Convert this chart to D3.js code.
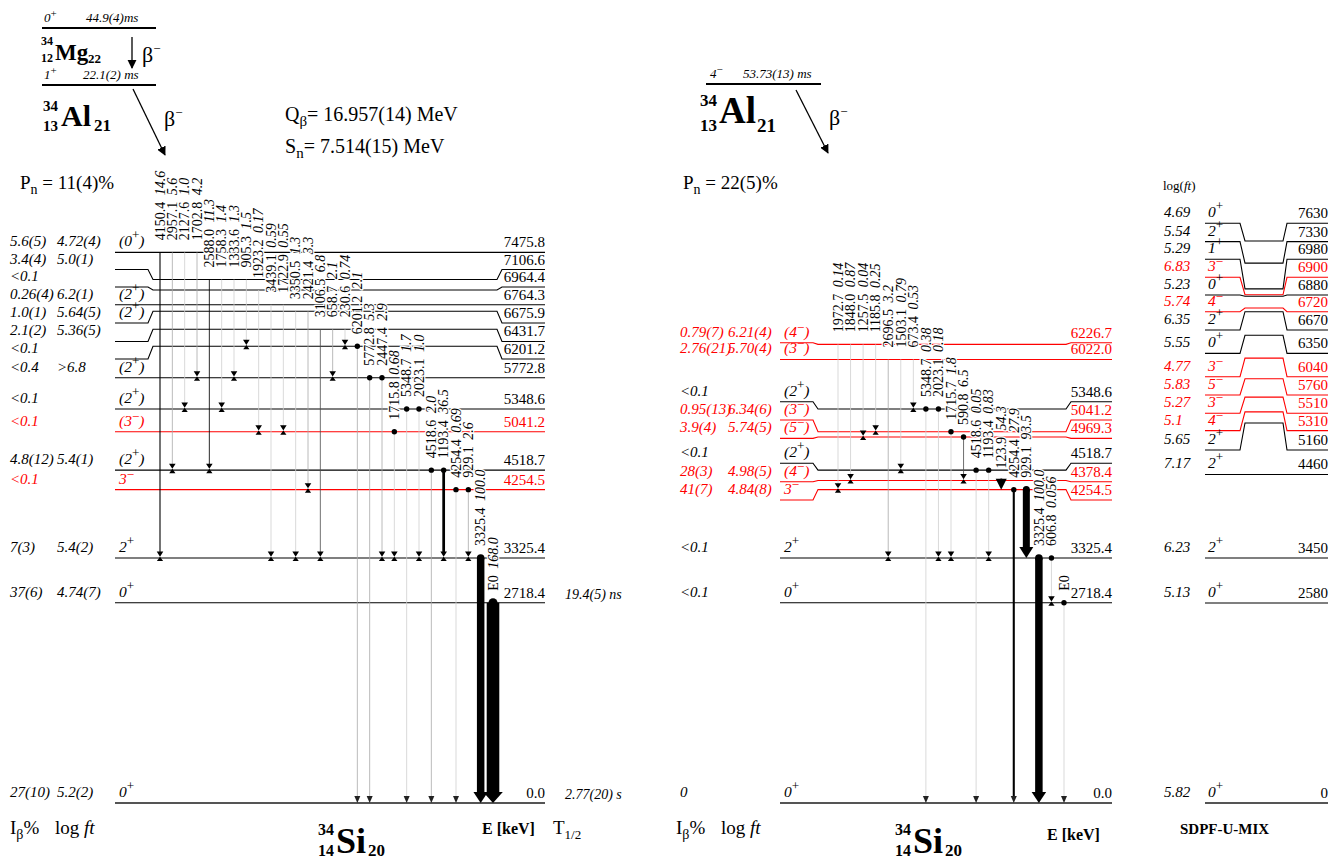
<!DOCTYPE html>
<html><head><meta charset="utf-8">
<script src="https://cdn.jsdelivr.net/npm/d3@7"></script>
<style>
body{margin:0;background:#fff;}
svg{display:block;font-family:"Liberation Serif","Times New Roman",serif;}
.halo{paint-order:stroke;stroke:#fff;stroke-width:2.5px;stroke-linejoin:round;}
</style></head><body>
<svg id="c" width="1339" height="863"></svg>
<script>
// ================= DATA =================
// Panel A: 34Al(1+) beta decay -> 34Si
const aLevelE  = [7475.8, 7106.6, 6964.4, 6764.3, 6675.9, 6431.7, 6201.2, 5772.8, 5348.6, 5041.2, 4518.7, 4254.5, 3325.4, 2718.4, 0.0];
const aLevelJ  = ["(0+)", "", "", "(2+)", "(2+)", "", "", "(2+)", "(2+)", "(3-)", "(2+)", "3-", "2+", "0+", "0+"];
const aIbeta   = ["5.6(5)","3.4(4)","<0.1","0.26(4)","1.0(1)","2.1(2)","<0.1","<0.4","<0.1","<0.1","4.8(12)","<0.1","7(3)","37(6)","27(10)"];
const aLogft   = ["4.72(4)","5.0(1)","","6.2(1)","5.64(5)","5.36(5)","",">6.8","","","5.4(1)","","5.4(2)","4.74(7)","5.2(2)"];
const aHalfLife = {2718.4: "19.4(5) ns", 0: "2.77(20) s"};
const aGammaFrom  = [7475.8,7475.8,7475.8,7475.8,7106.6,7106.6,7106.6,7106.6,6964.4,6764.3,6764.3,6675.9,6675.9,6431.7,6431.7,6431.7,6201.2,5772.8,5772.8,5041.2,5348.6,5348.6,4518.7,4518.7,4254.5,4254.5,3325.4,2718.4];
const aGammaTo    = [3325.4,4518.7,5348.6,5772.8,4518.7,5348.6,5772.8,6201.2,5041.2,3325.4,5041.2,3325.4,4254.5,3325.4,5772.8,6201.2,0,0,3325.4,3325.4,0,3325.4,0,3325.4,0,3325.4,0,0];
const aGammaLabel = ["4150.4","2957.1","2127.6","1702.8","2588.0","1758.3","1333.6","905.3","1923.2","3439.1","1722.9","3350.5","2421.4","3106.5","658.7","230.6","6201.2","5772.8","2447.4","1715.8","5348.7","2023.1","4518.6","1193.4","4254.4","929.1","3325.4","E0"];
const aGammaI     = ["14.6","5.6","1.0","4.2","11.3","1.4","1.3","1.5","0.17","0.59","0.55","1.3","3.3","6.8","2.1","0.74","2.1","5.3","2.9","0.68","1.7","1.0","2.0","36.5","0.69","2.6","100.0","168.0"];

// Panel B: 34Al(4-) beta decay -> 34Si
const bLevelE  = [6226.7, 6022.0, 5348.6, 5041.2, 4969.3, 4518.7, 4378.4, 4254.5, 3325.4, 2718.4, 0.0];
const bLevelJ  = ["(4-)","(3-)","(2+)","(3-)","(5-)","(2+)","(4-)","3-","2+","0+","0+"];
const bIbeta   = ["0.79(7)","2.76(21)","<0.1","0.95(13)","3.9(4)","<0.1","28(3)","41(7)","<0.1","<0.1","0"];
const bLogft   = ["6.21(4)","5.70(4)","","6.34(6)","5.74(5)","","4.98(5)","4.84(8)","","",""];
const bGammaFrom  = [6226.7,6226.7,6226.7,6226.7,6022.0,6022.0,6022.0,5348.6,5348.6,5041.2,4969.3,4518.7,4518.7,4378.4,4254.5,4254.5,3325.4,3325.4,2718.4];
const bGammaTo    = [4254.5,4378.4,4969.3,5041.2,3325.4,4518.7,5348.6,0,3325.4,3325.4,4378.4,0,3325.4,4254.5,0,3325.4,0,2718.4,0];
const bGammaLabel = ["1972.7","1848.0","1257.5","1185.8","2696.5","1503.1","673.4","5348.7","2023.1","1715.7","590.8","4518.6","1193.4","123.9","4254.4","929.1","3325.4","606.8","E0"];
const bGammaI     = ["0.14","0.87","0.04","0.25","3.2","0.79","0.53","0.38","0.18","1.8","6.5","0.05","0.83","54.3","27.9","93.5","100.0","0.056",""];

// Panel S: SDPF-U-MIX shell-model calculation
const sLevelE = [7630,7330,6980,6900,6880,6720,6670,6350,6040,5760,5510,5310,5160,4460,3450,2580,0];
const sLevelJ = ["0+","2+","1+","3-","0+","4-","2+","0+","3-","5-","3-","4-","2+","2+","2+","0+","0+"];
const sLogft  = ["4.69","5.54","5.29","6.83","5.23","5.74","6.35","5.55","4.77","5.83","5.27","5.1","5.65","7.17","6.23","5.13","5.82"];

// ================= LAYOUT (label-row energies, keV) =================
const aRowKeV = {7106.6: 7243, 6964.4: 7005, 6675.9: 6517, 6431.7: 6266, 6201.2: 6028};
const bRowKeV = {6226.7: 6249, 5348.6: 5448, 5041.2: 5200, 4969.3: 4951, 4518.7: 4612, 4378.4: 4362, 4254.5: 4114};
const sRowKeV = {7630: 7870, 7330: 7621, 6980: 7382, 6900: 7137, 6880: 6897, 6720: 6670, 6670: 6422, 6350: 6105,
                 6040: 5788, 5760: 5539, 5510: 5291, 5310: 5055, 5160: 4792, 3450: 3326, 2580: 2715};
const sFlat = new Set([3450, 2580]);

const cfgA = {x0:115, x1:545, kL:[148,153], kR:[497,502], ibX:10, logX:57, spinX:119, col:[160,493]};
const cfgB = {x0:780, x1:1112, kL:[813,818], kR:[1066,1071], ibX:680, logX:728, spinX:784, col:[838,1064]};
const cfgS = {x0:1205, x1:1328, kL:[1240,1245], kR:[1283,1287], logX:1164, spinX:1208};

// ================= DRAWING =================
const svg = d3.select("#c");
const y = d3.scaleLinear().domain([0, 7630]).range([803, 241]);
const MINUS = "\u2212";
const RED = "#ff0000";
const isNeg = j => /-/.test(j);

function spinText(g, s, x, yb, color, size){
  if(!s) return;
  const m = s.match(/^(\(?)(\d+)([+-])(\)?)$/);
  const t = g.append("text").attr("x",x).attr("y",yb).attr("fill",color)
    .attr("font-style","italic").attr("font-size",size);
  t.append("tspan").text(m[1]+m[2]);
  const up = m[3]==="+" ? 7 : 5;
  t.append("tspan").attr("dy",-up).attr("font-size",size*0.85).attr("font-style","normal")
    .text(m[3]==="+"?"+":MINUS);
  if(m[4]) t.append("tspan").attr("dy",up).text(m[4]);
}

function buildLevels(E, J, rowKeV, flat){
  return E.map((e,i)=>{
    const r = rowKeV[e] !== undefined ? rowKeV[e] : e;
    const row = y(r);
    const mid = (flat && flat.has(e)) ? row : y(e);
    return {E:e, J:J[i], i, row, mid, neg:isNeg(J[i])};
  });
}

function drawLevels(g, cfg, levels, opts){
  const line = d3.line();
  const gLines = g.append("g"), gText = g.append("g");
  levels.forEach(l=>{
    const col = l.neg ? RED : "#000";
    const zero = l.E === 0;
    gLines.append("path")
      .attr("d", line([[cfg.x0,l.row],[cfg.kL[0],l.row],[cfg.kL[1],l.mid],[cfg.kR[0],l.mid],[cfg.kR[1],l.row],[cfg.x1,l.row]]))
      .attr("fill","none").attr("stroke", zero ? "#555" : col)
      .attr("stroke-width", zero ? 2 : 1.1);
    gText.append("text").attr("x",cfg.x1).attr("y",l.row-5).attr("text-anchor","end")
      .attr("font-size",opts.eSize).attr("fill",col).text(opts.fmt(l.E));
    if(opts.ib) gText.append("text").attr("x",cfg.ibX).attr("y",l.row-6).attr("font-size",15)
      .attr("font-style","italic").attr("fill",col).text(opts.ib[l.i]);
    if(opts.logft) gText.append("text").attr("x",cfg.logX).attr("y",l.row-6).attr("font-size",opts.lSize)
      .attr("font-style","italic").attr("fill",col).text(opts.logft[l.i]);
    spinText(gText, l.J, cfg.spinX, l.row-6, col, 15.5);
  });
}

function drawGammas(g, cfg, levels, from, to, labels, ints){
  const colX = d3.scaleLinear().domain([0, labels.length-1]).range(cfg.col);
  const lv = new Map(levels.map(l=>[l.E,l]));
  const fed = new Set(to);
  const gl = g.append("g"), gm = g.append("g"), gt = g.append("g");
  labels.forEach((lab,i)=>{
    const x = colX(i);
    const y1 = lv.get(from[i]).mid, y2 = lv.get(to[i]).mid;
    const I = ints[i] === "" ? 0 : +ints[i];
    const w = Math.max(0.8, I*0.075);
    const c = I>=10 ? "#000" : I>=6 ? "#4a4a4a" : I>=2 ? "#a8a8a8" : "#cfcfcf";
    const thick = w > 3.5;
    const toZero = to[i] === 0;
    let headH, halfW;
    if(thick){ headH = 11; halfW = w/2 + 3.5; }
    else if(toZero){ headH = 7; halfW = Math.max(3, w/2+2); }
    else { headH = 5; halfW = 3.3; }
    const yEnd = Math.max(y1, y2 - headH + 0.5);
    gl.append("line").attr("x1",x).attr("x2",x).attr("y1",y1).attr("y2",yEnd)
      .attr("stroke",c).attr("stroke-width",w);
    if(thick || toZero){
      gm.append("path").attr("d",`M${x-halfW},${y2-headH}L${x+halfW},${y2-headH}L${x},${y2}Z`)
        .attr("fill", thick ? "#000" : "#222");
    } else {
      gm.append("path").attr("d",`M${x-3.3},${y2-6.5}L${x+3.3},${y2-6.5}L${x},${y2-1.3}Z M${x},${y2-1.3}L${x+3.1},${y2+3}L${x-3.1},${y2+3}Z`)
        .attr("fill","#000");
    }
    if(fed.has(from[i]) || lab === "E0"){
      gm.append("circle").attr("cx",x).attr("cy",y1).attr("r", thick ? Math.min(w/2,4.5) : 2.7).attr("fill","#000");
    }
    const t = gt.append("text").attr("class","halo")
      .attr("transform",`translate(${x+4.8},${y1-12}) rotate(-90)`).attr("font-size",14).attr("fill","#000");
    t.append("tspan").text(lab);
    if(ints[i]) t.append("tspan").attr("font-style","italic").attr("dx",3).text(" " + ints[i]);
  });
}

const fmt1 = d3.format(".1f"), fmt0 = d3.format("d");

// Panel A
const gA = svg.append("g");
const levA = buildLevels(aLevelE, aLevelJ, aRowKeV);
drawLevels(gA, cfgA, levA, {eSize:15, lSize:15, fmt:fmt1, ib:aIbeta, logft:aLogft});
drawGammas(gA, cfgA, levA, aGammaFrom, aGammaTo, aGammaLabel, aGammaI);
levA.forEach(l=>{
  if(aHalfLife[l.E]) gA.append("text").attr("x",565).attr("y",l.row-4).attr("font-size",14)
    .attr("font-style","italic").text(aHalfLife[l.E]);
});

// Panel B
const gB = svg.append("g");
const levB = buildLevels(bLevelE, bLevelJ, bRowKeV);
drawLevels(gB, cfgB, levB, {eSize:15, lSize:15, fmt:fmt1, ib:bIbeta, logft:bLogft});
drawGammas(gB, cfgB, levB, bGammaFrom, bGammaTo, bGammaLabel, bGammaI);

// Panel S
const gS = svg.append("g");
const levS = buildLevels(sLevelE, sLevelJ, sRowKeV, sFlat);
drawLevels(gS, cfgS, levS, {eSize:15, lSize:15, fmt:fmt0, logft:sLogft});

// ================= HEADERS & TEXT =================
const defs = svg.append("defs");
defs.append("marker").attr("id","ah").attr("viewBox","0 0 10 10").attr("refX",9).attr("refY",5)
  .attr("markerWidth",7).attr("markerHeight",7).attr("orient","auto")
  .append("path").attr("d","M0,0L10,5L0,10Z").attr("fill","#000");

function txt(x, yb, size, parts, attrs){
  const t = svg.append("text").attr("x",x).attr("y",yb).attr("font-size",size);
  if(attrs) Object.entries(attrs).forEach(([k,v])=>t.attr(k,v));
  parts.forEach(p=>{
    const s = t.append("tspan").text(p.t);
    if(p.dy) s.attr("dy",p.dy);
    if(p.size) s.attr("font-size",p.size);
    if(p.it) s.attr("font-style","italic");
    if(p.b) s.attr("font-weight","bold");
    if(p.x !== undefined) s.attr("x",p.x);
  });
  return t;
}

// 34Mg -> 34Al
svg.append("line").attr("x1",42).attr("x2",156).attr("y1",28).attr("y2",28).attr("stroke","#000").attr("stroke-width",2);
txt(44,22,13,[{t:"0",it:1},{t:"+",dy:-5,size:11},{t:"44.9(4)ms",it:1,dy:5,x:86}]);
txt(41,45,12,[{t:"34",b:1}]);
txt(41,62,12,[{t:"12",b:1}]);
txt(55,60,23,[{t:"Mg",b:1}]);
txt(88,63,13,[{t:"22",b:1}]);
svg.append("line").attr("x1",132).attr("x2",132).attr("y1",37).attr("y2",68).attr("stroke","#000").attr("stroke-width",1.3).attr("marker-end","url(#ah)");
txt(142,62,22,[{t:"\u03b2"},{t:MINUS,dy:-9,size:13}]);
svg.append("line").attr("x1",42).attr("x2",156).attr("y1",85).attr("y2",85).attr("stroke","#000").attr("stroke-width",2);
txt(44,79,13,[{t:"1",it:1},{t:"+",dy:-5,size:11},{t:"22.1(2) ms",it:1,dy:5,x:83}]);
txt(43,111,15,[{t:"34",b:1}]);
txt(43,131,15,[{t:"13",b:1}]);
txt(61,126,30,[{t:"Al",b:1}]);
txt(94,131,17,[{t:"21",b:1}]);
svg.append("line").attr("x1",133).attr("x2",165).attr("y1",89).attr("y2",155).attr("stroke","#000").attr("stroke-width",1.3).attr("marker-end","url(#ah)");
txt(164,126,22,[{t:"\u03b2"},{t:MINUS,dy:-9,size:13}]);
txt(285,121,20,[{t:"Q"},{t:"\u03b2",dy:5,size:15},{t:"= 16.957(14) MeV",dy:-5}]);
txt(285,153,20,[{t:"S"},{t:"n",dy:5,size:15},{t:"= 7.514(15) MeV",dy:-5}]);
txt(20,189,19,[{t:"P"},{t:"n",dy:5,size:14},{t:" = 11(4)%",dy:-5}]);

// 34Al (4-)
svg.append("line").attr("x1",706).attr("x2",821).attr("y1",84).attr("y2",84).attr("stroke","#000").attr("stroke-width",2);
txt(710,78,13,[{t:"4",it:1},{t:MINUS,dy:-5,size:11},{t:"53.73(13) ms",it:1,dy:5,x:743}]);
txt(700,106,17,[{t:"34",b:1}]);
txt(700,131,17,[{t:"13",b:1}]);
txt(719,123,37,[{t:"Al",b:1}]);
txt(757,132,19,[{t:"21",b:1}]);
svg.append("line").attr("x1",796).attr("x2",828).attr("y1",90).attr("y2",153).attr("stroke","#000").attr("stroke-width",1.3).attr("marker-end","url(#ah)");
txt(829,125,22,[{t:"\u03b2"},{t:MINUS,dy:-9,size:13}]);
txt(683,189,19,[{t:"P"},{t:"n",dy:5,size:14},{t:" = 22(5)%",dy:-5}]);

// SDPF header
txt(1163,190,13,[{t:"log("},{t:"ft",it:1},{t:")"}]);

// bottom labels
function bottomIb(x){ txt(x,834,19,[{t:"I"},{t:"\u03b2",dy:5,size:14},{t:"%",dy:-5}]); txt(x+45,834,19,[{t:"log "},{t:"ft",it:1}]); }
bottomIb(10); bottomIb(676);
function si(x){
  txt(x,835,16,[{t:"34",b:1}]);
  txt(x,856,16,[{t:"14",b:1}]);
  txt(x+18,853,36,[{t:"Si",b:1}]);
  txt(x+50,856,17,[{t:"20",b:1}]);
}
si(318); si(895);
txt(482,834,16,[{t:"E [keV]",b:1}]);
txt(1047,840,16,[{t:"E [keV]",b:1}]);
txt(553,834,19,[{t:"T"},{t:"1/2",dy:5,size:13}]);
txt(1180,834,15,[{t:"SDPF-U-MIX",b:1}]);
</script>
</body></html>
